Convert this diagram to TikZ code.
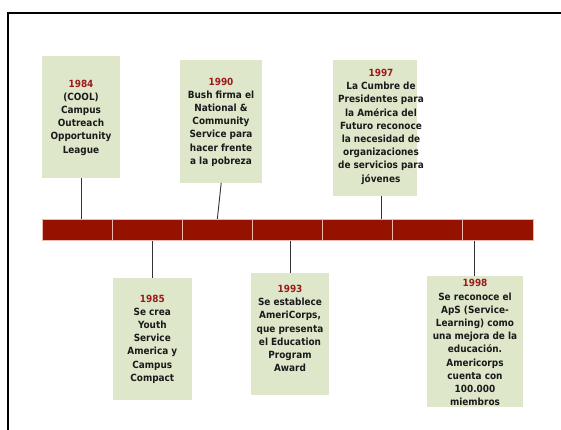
\documentclass[tikz,border=0pt]{standalone}
\usepackage{fontspec}
\setmainfont{DejaVu Sans Condensed}
\definecolor{barred}{HTML}{951200}
\definecolor{barline}{HTML}{EBB9B0}
\definecolor{boxfill}{HTML}{DFE7CB}
\definecolor{yearred}{HTML}{9C1A1A}
\definecolor{txtcol}{HTML}{1A1A1A}
\tikzset{
  evbox/.style={fill=boxfill, draw=none, inner sep=0pt, rectangle},
  evtext/.style={align=center, inner sep=0pt, text=txtcol,
    font=\fontsize{9.9pt}{13.2pt}\selectfont\bfseries},
  seg/.style={fill=barred, draw=barline, line width=0.8pt, inner sep=0pt,
    minimum width=70.14pt, minimum height=21.4pt, rectangle},
  conn/.style={draw=black!80, line width=0.9pt},
  frame/.style={draw=black, line width=2.4pt}
}
\newcommand{\yr}[1]{\textcolor{yearred}{#1}}
\begin{document}
\begin{tikzpicture}[x=1pt,y=-1pt]
\useasboundingbox (0,0) rectangle (561,429);
\fill[white] (0,0) rectangle (561,429);
\coordinate (fa) at (8,430);
\coordinate (fb) at (8,13);
\coordinate (fc) at (562,13);
\draw[frame] (fa) -- (fb) -- (fc);

% boxes
\node[evbox, minimum width=78.3pt, minimum height=122pt] (b84) at (81.2,117) {};
\node[evbox, minimum width=82.3pt, minimum height=122.7pt] (b90) at (221.2,121.4) {};
\node[evbox, minimum width=84pt, minimum height=135.7pt] (b97) at (374.7,127.9) {};
\node[evbox, minimum width=78.4pt, minimum height=122.3pt] (b85) at (152.5,338.9) {};
\node[evbox, minimum width=78.6pt, minimum height=122pt] (b93) at (290,334.3) {};
\node[evbox, minimum width=96.3pt, minimum height=131.3pt] (b98) at (474.9,341.7) {};

% texts
\node[evtext] (t84) at (81,117.5) {\yr{1984}\\(COOL)\\Campus\\Outreach\\Opportunity\\League};
\node[evtext] (t90) at (221,122) {\yr{1990}\\Bush firma el\\National \&\\Community\\Service para\\hacer frente\\a la pobreza};
\node[evtext] (t97) at (381,126.7) {\yr{1997}\\La Cumbre de\\Presidentes para\\la América del\\Futuro reconoce\\la necesidad de\\organizaciones\\de servicios para\\jóvenes};
\node[evtext] (t85) at (152.3,339) {\yr{1985}\\Se crea\\Youth\\Service\\America y\\Campus\\Compact};
\node[evtext] (t93) at (290,328.5) {\yr{1993}\\Se establece\\AmeriCorps,\\que presenta\\el Education\\Program\\Award};
\node[evtext] (t98) at (475,342.6) {\yr{1998}\\Se reconoce el\\ApS (Service-\\Learning) como\\una mejora de la\\educación.\\Americorps\\cuenta con\\100.000\\miembros};

% timeline bar
\foreach \i in {1,...,7} {
  \node[seg] (s\i) at ({42+70.14*(\i-0.5)},230) {};
}

% connectors
\draw[conn] (b84.south) -- (b84.south |- s1.north);
\draw[conn] (b90.south) -- (s3.north);
\draw[conn] (t97 |- b97.south) -- (t97 |- s5.north);
\draw[conn] (b85.north) -- (b85.north |- s2.south);
\draw[conn] (b93.north) -- (b93.north |- s4.south);
\draw[conn] (b98.north) -- (b98.north |- s7.south);
\end{tikzpicture}
\end{document}
